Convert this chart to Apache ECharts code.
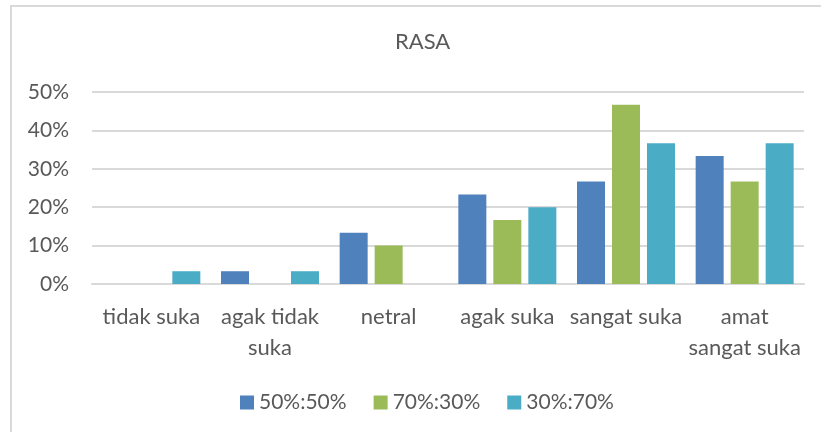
<!DOCTYPE html>
<html>
<head>
<meta charset="utf-8">
<style>
  html, body { margin: 0; padding: 0; background: #fff; }
  #container { width: 821px; height: 432px; }
</style>
<script src="https://cdn.jsdelivr.net/npm/echarts@6/dist/echarts.min.js"></script>
</head>
<body>
<div id="container"></div>
<script>
var categories = ['tidak suka', 'agak tidak suka', 'netral', 'agak suka', 'sangat suka', 'amat sangat suka'];
var tickLabels = ['tidak suka', 'agak tidak\nsuka', 'netral', 'agak suka', 'sangat suka', 'amat\nsangat suka'];
var s5050 = [0, 3.33, 13.33, 23.33, 26.67, 33.33];
var s7030 = [0, 0, 10, 16.67, 46.67, 26.67];
var s3070 = [3.33, 3.33, 0, 20, 36.67, 36.67];
var seriesNames = ['50%:50%', '70%:30%', '30%:70%'];

var dom = document.getElementById('container');
var myChart = echarts.init(dom, null, { renderer: 'canvas' });
var font = 'Lato, "Liberation Sans", sans-serif';
var textColor = '#595959';

var option = {
  animation: false,
  color: ['#4F81BD', '#9BBB59', '#4BACC6'],
  title: {
    text: 'RASA',
    left: 395,
    top: 31,
    padding: 0,
    textStyle: { fontFamily: font, fontSize: 22, fontWeight: 'normal', color: textColor }
  },
  legend: {
    top: 392,
    left: 240,
    padding: 0,
    icon: 'rect',
    itemWidth: 14,
    itemHeight: 14,
    itemGap: 27,
    textStyle: { fontFamily: font, fontSize: 21, color: textColor },
    data: seriesNames
  },
  graphic: [{
    type: 'polyline',
    shape: { points: [[11, 432], [11, 6], [821, 6]] },
    style: { stroke: '#d9d9d9', lineWidth: 2, fill: null }
  }],
  grid: { left: 92, right: 17, top: 92, bottom: 148 },
  xAxis: {
    type: 'category',
    data: categories,
    axisTick: { show: false },
    axisLine: { lineStyle: { color: '#d9d9d9', width: 2 } },
    axisLabel: {
      interval: 0,
      margin: 17,
      lineHeight: 31,
      fontFamily: font,
      fontSize: 22,
      color: textColor,
      formatter: function (v, i) { return tickLabels[i]; }
    }
  },
  yAxis: {
    type: 'value',
    min: 0,
    max: 50,
    interval: 10,
    axisLabel: {
      margin: 23,
      fontFamily: font,
      fontSize: 21,
      color: textColor,
      formatter: '{value}%'
    },
    splitLine: { lineStyle: { color: '#d9d9d9', width: 2 } }
  },
  series: [
    { name: seriesNames[0], type: 'bar', data: s5050, barWidth: 28, barGap: '25%' },
    { name: seriesNames[1], type: 'bar', data: s7030, barWidth: 28, barGap: '25%' },
    { name: seriesNames[2], type: 'bar', data: s3070, barWidth: 28, barGap: '25%' }
  ]
};

if (option && typeof option === 'object') {
  myChart.setOption(option);
}
window.addEventListener('resize', myChart.resize);
</script>
</body>
</html>
